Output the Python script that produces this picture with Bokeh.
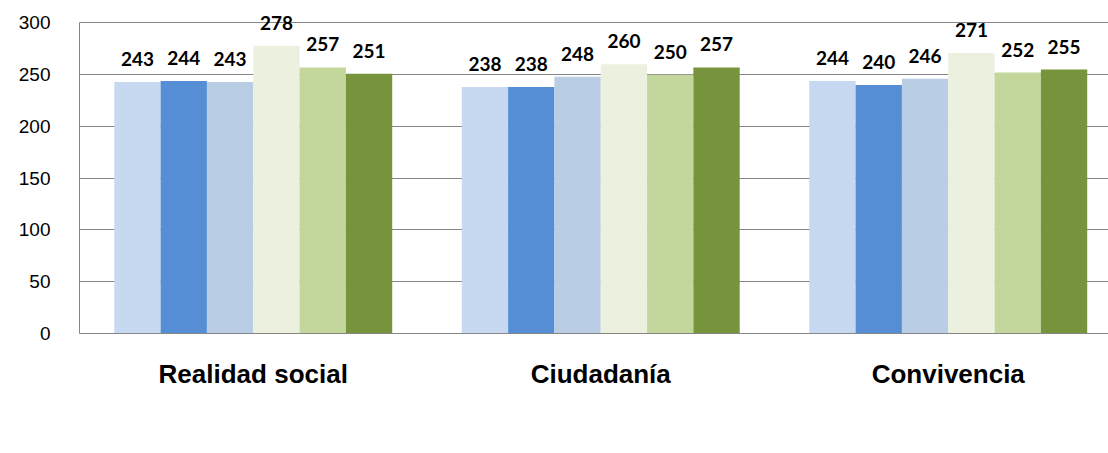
from bokeh.plotting import figure
from bokeh.models import Range1d, FixedTicker, Legend, LegendItem
from bokeh.core.properties import value
from bokeh.embed import file_html
from bokeh.resources import INLINE

categories = ["Realidad social", "Ciudadanía", "Convivencia"]
series = ["A público", "B público", "D público", "A concertado", "B concertado", "D concertado"]
colors = ["#C6D9F1", "#558ED5", "#B9CDE5", "#EBF1DE", "#C3D69B", "#77933C"]
a_publico = [243, 238, 244]
b_publico = [244, 238, 240]
d_publico = [243, 248, 246]
a_concertado = [278, 260, 271]
b_concertado = [257, 250, 252]
d_concertado = [251, 257, 255]
y_ticks = [0, 50, 100, 150, 200, 250, 300]

all_values = [a_publico, b_publico, d_publico, a_concertado, b_concertado, d_concertado]

GRID = "#868686"
bar_w = 0.1333
W = 1108
LEFT = 79
frame_w = W - LEFT

p = figure(frame_width=frame_w, frame_height=323, output_backend="svg", toolbar_location=None,
           x_range=Range1d(0, frame_w / 347.5), y_range=Range1d(0, 312),
           min_border_left=LEFT, min_border_right=0, min_border_top=10, min_border_bottom=0)
p.outline_line_color = None
p.background_fill_color = "white"
p.border_fill_color = "white"

rends = []
n = len(series)
for i, (name, vals, col) in enumerate(zip(series, all_values, colors)):
    xs = [g + 0.5 + (i - (n - 1) / 2) * bar_w for g in range(len(categories))]
    r = p.vbar(x=xs, top=vals, width=bar_w, fill_color=col, line_color=None)
    rends.append(LegendItem(label=name, renderers=[r]))
    p.text(x=xs, y=vals, text=[str(v) for v in vals], text_align="center",
           text_baseline="middle", y_offset=-23, text_font=value("Lato"),
           text_font_style="bold", text_font_size="19px", text_color="black")

xa = p.xaxis[0]
xa.ticker = FixedTicker(ticks=[g + 0.5 for g in range(len(categories))])
xa.major_label_overrides = {g + 0.5: c for g, c in enumerate(categories)}
xa.major_label_text_font = "Liberation Sans"
xa.major_label_text_font_style = "bold"
xa.major_label_text_font_size = "26px"
xa.major_label_text_color = "black"
xa.major_label_standoff = 25
xa.major_tick_line_color = None
xa.major_tick_out = 0
xa.major_tick_in = 0
xa.minor_tick_line_color = None
xa.axis_line_color = GRID
xa.axis_label = "\u00a0"
xa.axis_label_text_font_size = "10px"
xa.axis_label_standoff = 14

ya = p.yaxis[0]
ya.ticker = FixedTicker(ticks=y_ticks)
ya.bounds = (0, 300)
ya.major_label_text_font = "Liberation Sans"
ya.major_label_text_font_size = "19px"
ya.major_label_text_color = "black"
ya.major_label_standoff = 29
ya.major_tick_line_color = None
ya.major_tick_out = 0
ya.major_tick_in = 0
ya.minor_tick_line_color = None
ya.axis_line_color = GRID

p.xgrid.grid_line_color = None
p.ygrid.grid_line_color = GRID

legend = Legend(items=rends, orientation="horizontal", location="center",
                border_line_color=None, background_fill_alpha=0,
                margin=0, padding=0, spacing=20, label_standoff=6,
                glyph_width=16, glyph_height=16,
                label_text_font="Liberation Sans", label_text_font_style="bold",
                label_text_font_size="26px", label_text_color="black")
p.add_layout(legend, "below")

open("out.html", "w").write(file_html(p, INLINE))
